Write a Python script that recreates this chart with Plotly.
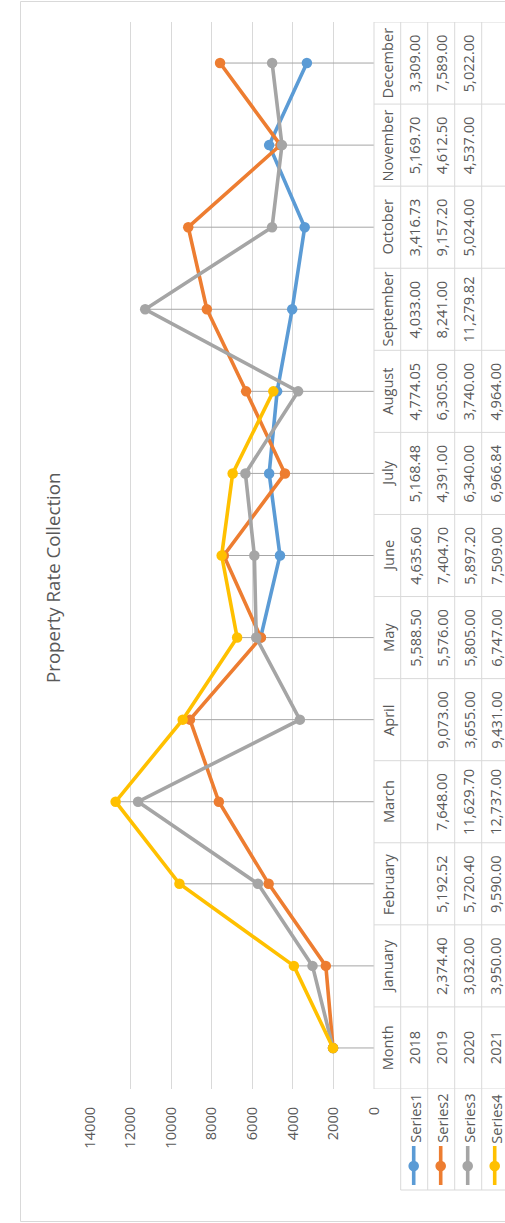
import plotly.graph_objects as go

# ---- data -------------------------------------------------------------
categories = ["Month", "January", "February", "March", "April", "May", "June",
              "July", "August", "September", "October", "November", "December"]
series_names = ["Series1", "Series2", "Series3", "Series4"]

series1 = [2018, None, None, None, None, 5588.50, 4635.60, 5168.48, 4774.05,
           4033.00, 3416.73, 5169.70, 3309.00]
series2 = [2019, 2374.40, 5192.52, 7648.00, 9073.00, 5576.00, 7404.70, 4391.00,
           6305.00, 8241.00, 9157.20, 4612.50, 7589.00]
series3 = [2020, 3032.00, 5720.40, 11629.70, 3655.00, 5805.00, 5897.20, 6340.00,
           3740.00, 11279.82, 5024.00, 4537.00, 5022.00]
series4 = [2021, 3950.00, 9590.00, 12737.00, 9431.00, 6747.00, 7509.00, 6966.84,
           4964.00, None, None, None, None]

value_ticks = [0, 2000, 4000, 6000, 8000, 10000, 12000, 14000]
title_text = "Property Rate Collection"

# ---- styling ----------------------------------------------------------
colors = ["#5B9BD5", "#ED7D31", "#A5A5A5", "#FFC000"]
text_color = "#595959"
grid_color = "#D9D9D9"
font_family = "Open Sans"
font_size = 14.6

W, H = 505, 1223
PL, PR, PT, PB = 90, 374, 22, 1089       # plot area in pixels


def px(xp):
    return (xp - PL) / (PR - PL)


def py(yp):
    return (PB - yp) / (PB - PT)


all_series = [series1, series2, series3, series4]
n = len(categories)

fig = go.Figure()

# drop lines: from the highest value of each category to the axis
drop_x, drop_y = [], []
for i, cat in enumerate(categories):
    vals = [s[i] for s in all_series if s[i] is not None]
    drop_x += [max(vals), 0, None]
    drop_y += [cat, cat, None]
fig.add_trace(go.Scatter(x=drop_x, y=drop_y, mode="lines",
                         line=dict(color="#A6A6A6", width=1),
                         hoverinfo="skip", showlegend=False))

for name, vals, col in zip(series_names, all_series, colors):
    fig.add_trace(go.Scatter(
        x=vals, y=categories, name=name, mode="lines+markers",
        line=dict(color=col, width=3.6),
        marker=dict(color=col, size=10.5),
        connectgaps=False, showlegend=False))

shapes = []
line_style = dict(color=grid_color, width=1)

# outer chart border
shapes.append(dict(type="rect", xref="paper", yref="paper",
                   x0=px(20.5), x1=px(530), y0=py(1.5), y1=py(1221.5),
                   line=line_style, layer="below"))

# data table
col_edges = [374, 400.7, 427.7, 454.7, 481.7, 508.7]
legend_bottom = 1190
for i in range(n + 1):
    shapes.append(dict(type="line", xref="paper", yref="y",
                       x0=px(col_edges[0]), x1=px(col_edges[-1]),
                       y0=i - 0.5, y1=i - 0.5, line=line_style))
for k, xe in enumerate(col_edges):
    shapes.append(dict(type="line", xref="paper", yref="paper",
                       x0=px(xe), x1=px(xe), y0=py(PT),
                       y1=py(PB if k == 0 else legend_bottom), line=line_style))
shapes.append(dict(type="line", xref="paper", yref="paper",
                   x0=px(col_edges[1]), x1=px(col_edges[-1]),
                   y0=py(legend_bottom), y1=py(legend_bottom), line=line_style))

annotations = []
centers = [(col_edges[k] + col_edges[k + 1]) / 2 for k in range(5)]


def fmt(v, i):
    if v is None:
        return ""
    if i == 0:
        return f"{v:.0f}"
    return f"{v:,.2f}"


for i, cat in enumerate(categories):
    annotations.append(dict(xref="paper", yref="y", x=px(centers[0]), y=i,
                            text=cat, textangle=-90, showarrow=False,
                            xanchor="center", yanchor="middle"))
    for k, vals in enumerate(all_series):
        annotations.append(dict(xref="paper", yref="y", x=px(centers[k + 1]),
                                y=i, text=fmt(vals[i], i), textangle=-90,
                                showarrow=False, xanchor="center",
                                yanchor="middle"))

# legend keys inside the table
for k, (name, col) in enumerate(zip(series_names, colors)):
    cx = centers[k + 1] - 0.5
    annotations.append(dict(xref="paper", yref="paper", x=px(cx + 0.5),
                            y=py(1118.5), text=name, textangle=-90,
                            showarrow=False, xanchor="center", yanchor="middle"))
    shapes.append(dict(type="line", xref="paper", yref="paper",
                       x0=px(cx), x1=px(cx), y0=py(1146), y1=py(1185),
                       line=dict(color=col, width=3.6)))
    r = 5.3
    shapes.append(dict(type="circle", xref="paper", yref="paper",
                       x0=px(cx - r), x1=px(cx + r),
                       y0=py(1166 + r), y1=py(1166 - r),
                       fillcolor=col, line=dict(color=col, width=0)))

# chart title
annotations.append(dict(xref="paper", yref="paper", x=px(52), y=py(578),
                        text=title_text, textangle=-90, showarrow=False,
                        xanchor="center", yanchor="middle",
                        font=dict(size=18.7, color=text_color,
                                  family=font_family)))

fig.update_layout(
    width=W, height=H,
    margin=dict(l=PL, r=W - PR, t=PT, b=H - PB, pad=0),
    paper_bgcolor="white", plot_bgcolor="white",
    font=dict(family=font_family, size=font_size, color=text_color),
    showlegend=False,
    shapes=shapes, annotations=annotations,
    xaxis=dict(range=[14000, 0], tickvals=value_ticks,
               ticktext=[str(v) for v in value_ticks],
               tickangle=-90, showgrid=True, gridcolor=grid_color,
               gridwidth=1, zeroline=False, showline=False,
               ticks="", ticklabelstandoff=14, automargin=False,
               tickfont=dict(size=font_size, color=text_color)),
    yaxis=dict(type="category", categoryorder="array",
               categoryarray=categories, range=[-0.5, n - 0.5],
               showgrid=False, zeroline=False, showline=False,
               showticklabels=False, ticks="", automargin=False),
)

fig.write_html("out.html")
